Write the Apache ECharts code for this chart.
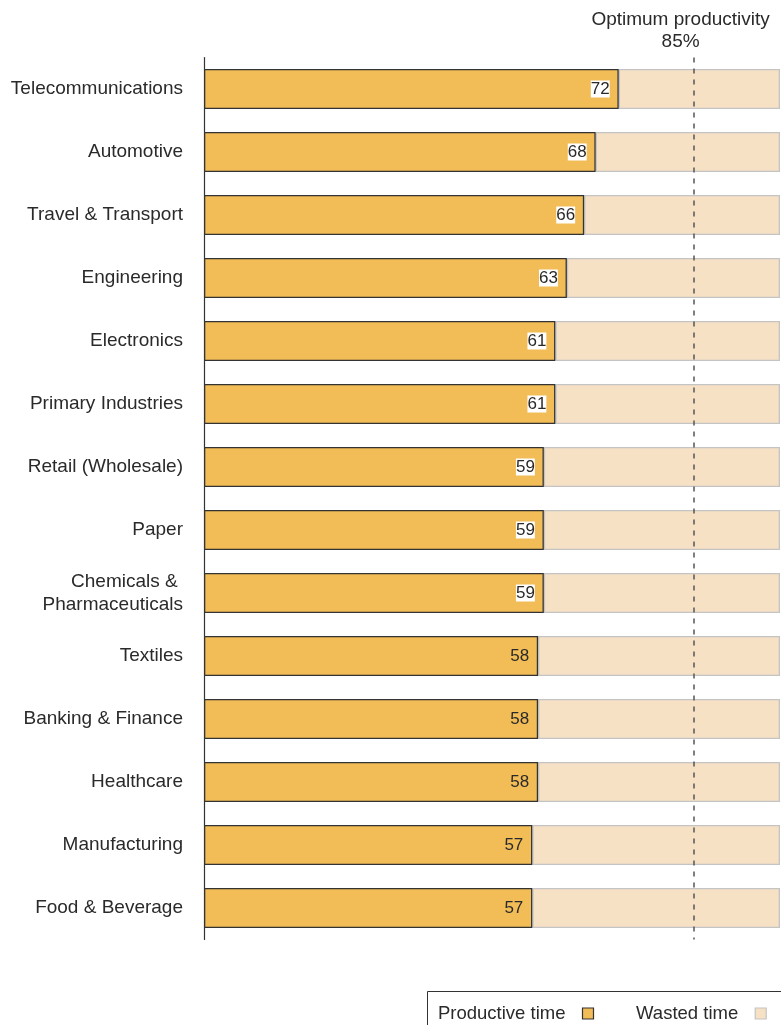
<!DOCTYPE html>
<html>
<head>
<meta charset="utf-8">
<style>
  html, body { margin: 0; padding: 0; background: #fff; }
  #chart { width: 781px; height: 1025px; }
</style>
<script src="https://cdn.jsdelivr.net/npm/echarts@6/dist/echarts.min.js"></script>
</head>
<body>
<div id="chart"></div>
<script>
// Productive share of working time by industry (%)
const industries = [
  'Telecommunications', 'Automotive', 'Travel & Transport', 'Engineering',
  'Electronics', 'Primary Industries', 'Retail (Wholesale)', 'Paper',
  'Chemicals & \nPharmaceuticals', 'Textiles', 'Banking & Finance',
  'Healthcare', 'Manufacturing', 'Food & Beverage'
];
const productive = [72, 68, 66, 63, 61, 61, 59, 59, 59, 58, 58, 58, 57, 57];
const wasted = productive.map(v => 100 - v);
const optimum = 85;
const seriesNames = ['Productive time', 'Wasted time'];

const FONT = '"Liberation Sans", Arial, Helvetica, sans-serif';
const TEXT = '#2a2a2a';
const GOLD = '#f2bd57';
const SAND = '#f7e1c4';

const chart = echarts.init(document.getElementById('chart'), null, { renderer: 'canvas' });

chart.setOption({
  animation: false,
  backgroundColor: '#fff',
  textStyle: { fontFamily: FONT },
  grid: { left: 204, right: 1, top: 57.5, bottom: 85.5, containLabel: false },
  xAxis: {
    type: 'value', min: 0, max: 100, show: false
  },
  yAxis: {
    type: 'category',
    data: industries,
    inverse: true,
    axisLine: { show: true, lineStyle: { color: '#333', width: 1.2 } },
    axisTick: { show: false },
    axisLabel: {
      color: TEXT, fontSize: 19, fontFamily: FONT, margin: 21,
      lineHeight: 23, align: 'right'
    }
  },
  legend: {
    left: 433, top: 999,
    align: 'right',
    itemWidth: 11, itemHeight: 11, itemGap: 42,
    icon: 'rect',
    textStyle: { color: TEXT, fontSize: 18.5, fontFamily: FONT, padding: [0, 12, 0, 0] },
    data: [
      { name: seriesNames[0], itemStyle: { color: GOLD, borderColor: '#333', borderWidth: 1.2 } },
      { name: seriesNames[1], itemStyle: { color: SAND, borderColor: '#c4c4c4', borderWidth: 1.2 } }
    ]
  },
  graphic: [{
    type: 'rect',
    shape: { x: 427.5, y: 991.5, width: 400, height: 60 },
    style: { fill: 'none', stroke: '#333', lineWidth: 1 },
    silent: true
  }],
  series: [
    {
      name: seriesNames[0],
      type: 'bar',
      stack: 'time',
      barWidth: 40,
      data: productive.map((v, i) => ({
        value: v,
        label: i < 9 ? { backgroundColor: '#fff' } : {}
      })),
      itemStyle: { color: GOLD, borderColor: '#333', borderWidth: 1.3 },
      label: {
        show: true, position: 'insideRight', distance: 9,
        color: TEXT, fontSize: 17, fontFamily: FONT
      },
      markLine: {
        silent: true,
        symbol: 'none',
        lineStyle: { color: '#555', type: [5, 6], width: 1.5 },
        label: {
          show: true, position: 'start', distance: 5,
          formatter: 'Optimum productivity\n' + optimum + '%',
          color: TEXT, fontSize: 19, fontFamily: FONT, lineHeight: 22,
          padding: [0, 26, 0, 0]
        },
        data: [{ xAxis: optimum }]
      },
      z: 3
    },
    {
      name: seriesNames[1],
      type: 'bar',
      stack: 'time',
      barWidth: 40,
      data: wasted,
      itemStyle: { color: SAND, borderColor: '#c4c4c4', borderWidth: 1.3 },
      z: 2
    }
  ]
});
</script>
</body>
</html>
